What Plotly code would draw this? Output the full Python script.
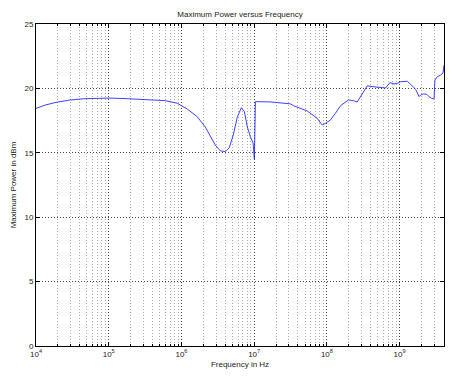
import plotly.graph_objects as go

freq_hz = [1e4, 1.33e4, 1.83e4, 2.94e4, 4.73e4, 1.04e5, 1.79e5, 3.71e5, 5.98e5, 8.75e5,
           1.2e6, 1.65e6, 2.13e6, 2.49e6, 2.92e6, 3.42e6, 4.01e6, 4.55e6, 5.17e6, 5.87e6,
           6.67e6, 7.33e6, 8.06e6, 8.86e6, 9.66e6, 1.006e7, 1.04e7, 1.67e7, 3.15e7, 3.47e7,
           5.35e7, 7.35e7, 8.61e7, 9.57e7, 1.12e8, 1.31e8, 1.54e8, 1.98e8, 2.32e8, 2.61e8,
           3.06e8, 3.59e8, 4.21e8, 5.78e8, 6.41e8, 7.35e8, 8.34e8, 9.29e8, 1.03e9, 1.28e9,
           1.50e9, 1.66e9, 1.85e9, 1.95e9, 2.12e9, 2.36e9, 2.53e9, 2.74e9, 2.97e9, 3.06e9,
           3.30e9, 3.67e9, 3.95e9, 4.07e9]
power_dbm = [18.45, 18.7, 18.9, 19.1, 19.2, 19.25, 19.2, 19.1, 19.05, 18.85,
             18.4, 17.8, 17.0, 16.3, 15.6, 15.15, 15.1, 15.4, 16.4, 17.8,
             18.5, 18.2, 17.0, 16.25, 15.76, 14.5, 18.97, 18.95, 18.8, 18.66,
             18.25, 17.68, 17.16, 17.29, 17.55, 18.07, 18.66, 19.1, 19.05, 18.94,
             19.62, 20.2, 20.14, 20.1, 20.03, 20.45, 20.34, 20.39, 20.52, 20.55,
             20.14, 19.93, 19.36, 19.49, 19.57, 19.54, 19.36, 19.23, 19.18, 20.65,
             20.91, 21.04, 21.2, 21.8]

x_tickvals = [1e4, 1e5, 1e6, 1e7, 1e8, 1e9]
x_ticktext = ["10<sup>4</sup>", "10<sup>5</sup>", "10<sup>6</sup>", "10<sup>7</sup>",
              "10<sup>8</sup>", "10<sup>9</sup>"]
y_tickvals = [0, 5, 10, 15, 20, 25]

font = "Liberation Sans, Arial, sans-serif"

fig = go.Figure()
fig.add_trace(go.Scatter(x=freq_hz, y=power_dbm, mode="lines",
                         line=dict(color="#2a2aff", width=0.9), showlegend=False,
                         hoverinfo="skip"))

fig.update_layout(
    width=456, height=379,
    margin=dict(l=36, r=12, t=24, b=33),
    paper_bgcolor="white", plot_bgcolor="white",
    font=dict(family=font, size=8, color="#222222"),
    title=dict(text="Maximum Power versus Frequency", x=(36 + 444) / 2 / 456, xanchor="center",
               y=1 - 14 / 379, yanchor="middle", font=dict(size=8)),
)
fig.update_xaxes(
    type="log", range=[4, 9.61], automargin=False,
    tickvals=x_tickvals, ticktext=x_ticktext,
    ticks="inside", ticklen=4, tickcolor="black",
    showline=True, linecolor="black", linewidth=1, mirror="ticks",
    showgrid=True, gridcolor="#444444", griddash="1px,2px", gridwidth=1,
    minor=dict(ticks="inside", ticklen=2, tickcolor="black", showgrid=True,
               gridcolor="#aaaaaa", griddash="1px,2px", dtick="D1"),
    zeroline=False,
    title=dict(text="Frequency in Hz", standoff=3, font=dict(size=8)),
    tickfont=dict(size=8),
)
fig.update_yaxes(
    range=[0, 25], tickvals=y_tickvals, automargin=False,
    ticks="inside", ticklen=4, tickcolor="black",
    showline=True, linecolor="black", linewidth=1, mirror="ticks",
    showgrid=True, gridcolor="#444444", griddash="1px,2px", gridwidth=1,
    zeroline=False,
    title=dict(text="Maximum Power in dBm", standoff=6, font=dict(size=8)),
    tickfont=dict(size=8),
)

fig.write_html("out.html", config={"displayModeBar": False},
               post_script="document.body.style.margin='0';")
